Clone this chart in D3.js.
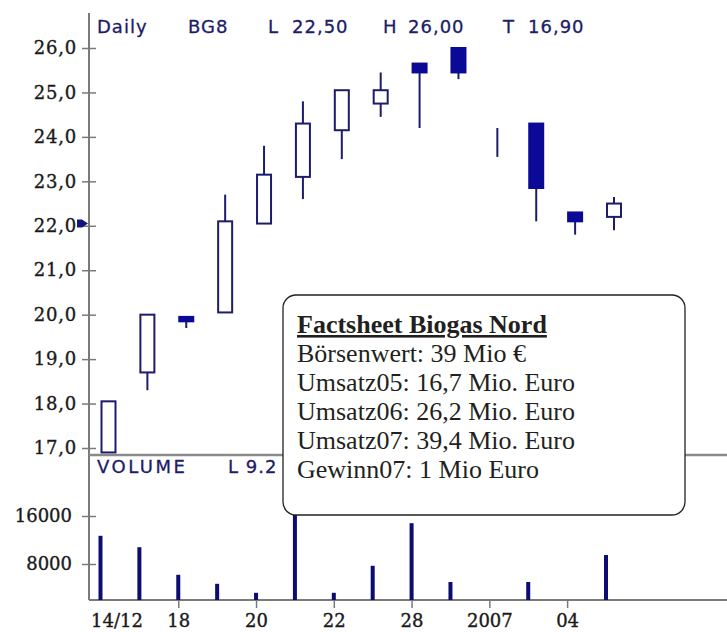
<!DOCTYPE html>
<meta charset="utf-8">
<script src="https://d3js.org/d3.v7.min.js"></script>
<style>
  body { margin: 0; background: #fff; }
</style>
<div id="chart"></div>
<script>

// trading days and the dates that get a label
var days = ["14/12", "15/12", "18/12", "19/12", "20/12", "21/12", "22/12",
            "27/12", "28/12", "29/12", "02/01", "03/01", "04/01", "05/01"];
var tickDays = ["14/12", "18/12", "20/12", "22/12", "28/12", "02/01", "04/01"];
var tickLabels = ["14/12", "18", "20", "22", "28", "2007", "04"];

// daily prices (Euro)
var open  = [16.90, 18.70, 19.95, 20.05, 22.05, 23.10, 24.15, 24.75, 25.65, 26.00, 24.20, 24.30, 22.30, 22.20];
var high  = [18.05, 20.00, 19.95, 22.70, 23.80, 24.80, 25.05, 25.45, 25.65, 26.00, 24.20, 24.30, 22.30, 22.65];
var low   = [16.90, 18.30, 19.70, 20.05, 22.05, 22.60, 23.50, 24.45, 24.20, 25.30, 23.55, 22.10, 21.80, 21.90];
var close = [18.05, 20.00, 19.85, 22.10, 23.15, 24.30, 25.05, 25.05, 25.45, 25.45, 24.20, 22.85, 22.10, 22.50];

// daily volume (0 = no trade shown)
var volume = [12700, 10800, 6200, 4700, 3200, 22000, 3200, 7700, 14800, 5000, 0, 5000, 0, 9500];

var priceTicks = [17, 18, 19, 20, 21, 22, 23, 24, 25, 26];
var volumeTicks = [8000, 16000];
var markerPrice = 22.05;

var header = [
  {t: "Daily", x: 97}, {t: "BG8", x: 188},
  {t: "L", x: 268}, {t: "22,50", x: 292},
  {t: "H", x: 383}, {t: "26,00", x: 408},
  {t: "T", x: 503}, {t: "16,90", x: 528}
];
var factTitle = "Factsheet Biogas Nord";
var factLines = ["Börsenwert: 39 Mio €", "Umsatz05: 16,7 Mio. Euro", "Umsatz06: 26,2 Mio. Euro",
                 "Umsatz07: 39,4 Mio. Euro", "Gewinn07: 1 Mio Euro"];

var W = 727, H = 632;
var axisX = 89, volBase = 600, divider = 455;
var navy = "#1c1c6a", blue = "#0a0a96", grey = "#7a7a7a";

var svg = d3.select("#chart").append("svg")
    .attr("width", W)
    .attr("height", H);

var x = d3.scalePoint().domain(days).range([100.5, 606]);
var candleOffset = 8;
var yPrice = d3.scaleLinear().domain([17, 26]).range([448, 48]);
var yVol = d3.scaleLinear().domain([2000, 18000]).range([volBase, 504]);

var fmtPrice = function(d) { return d3.format(".1f")(d).replace(".", ","); };

// heavier look for the small bitmap-like labels
function labelStyle(sel, family, size) {
  sel.attr("font-family", family).attr("font-size", size)
     .attr("fill", "#1a1a1a").attr("stroke", "#1a1a1a").attr("stroke-width", 0.35);
}

// frame lines
svg.append("line").attr("x1", axisX).attr("x2", axisX).attr("y1", 13).attr("y2", volBase)
    .attr("stroke", grey).attr("stroke-width", 2);
svg.append("line").attr("x1", axisX).attr("x2", W).attr("y1", divider).attr("y2", divider)
    .attr("stroke", "#8a8a8a").attr("stroke-width", 2.5);
svg.append("line").attr("x1", axisX).attr("x2", W).attr("y1", volBase).attr("y2", volBase)
    .attr("stroke", grey).attr("stroke-width", 2);

// price axis
var pAxis = svg.append("g")
    .attr("transform", "translate(" + axisX + ",0)")
    .call(d3.axisLeft(yPrice).tickValues(priceTicks).tickSize(7).tickPadding(5).tickFormat(fmtPrice));
pAxis.select(".domain").remove();
pAxis.selectAll(".tick line").attr("x1", 7).attr("stroke", grey).attr("stroke-width", 1.5);
pAxis.selectAll(".tick text").call(labelStyle, "DejaVu Serif", 18).attr("letter-spacing", 0.8);

// volume axis
var vAxis = svg.append("g")
    .attr("transform", "translate(" + axisX + ",0)")
    .call(d3.axisLeft(yVol).tickValues(volumeTicks).tickSize(7).tickPadding(10).tickFormat(d3.format("d")));
vAxis.select(".domain").remove();
vAxis.selectAll(".tick line").attr("x1", 7).attr("stroke", grey).attr("stroke-width", 1.5);
vAxis.selectAll(".tick text").call(labelStyle, "DejaVu Serif", 18);

// date axis
var xAxis = svg.append("g")
    .attr("transform", "translate(0," + volBase + ")")
    .call(d3.axisBottom(x).tickValues(tickDays).tickSize(8).tickPadding(6)
      .tickFormat(function(d, i) { return tickLabels[i]; }));
xAxis.select(".domain").remove();
xAxis.selectAll(".tick line").attr("stroke", grey).attr("stroke-width", 1.5);
xAxis.selectAll(".tick text").call(labelStyle, "DejaVu Serif", 18);
// first label sits against the axis, without a tick
var first = xAxis.selectAll(".tick").filter(function(d, i) { return i === 0; });
first.select("line").remove();
first.select("text").attr("text-anchor", "start").attr("x", -10);

// volume bars
var volData = days.map(function(d, i) { return {day: d, v: volume[i]}; })
    .filter(function(d) { return d.v > 0; });
svg.append("g").selectAll("rect")
  .data(volData)
  .enter()
  .append("rect")
    .attr("x", function(d) { return x(d.day) - 2; })
    .attr("width", 4)
    .attr("y", function(d) { return yVol(d.v); })
    .attr("height", function(d) { return volBase - yVol(d.v); })
    .attr("fill", "#0c0c72");

// candles
var candles = days.map(function(d, i) {
  return {day: d, o: open[i], h: high[i], l: low[i], c: close[i]};
});
var cg = svg.append("g").selectAll("g")
  .data(candles)
  .enter()
  .append("g")
    .attr("transform", function(d) { return "translate(" + (x(d.day) + candleOffset) + ",0)"; });

cg.append("line")
    .attr("y1", function(d) { return yPrice(d.h); })
    .attr("y2", function(d) { return yPrice(d.l); })
    .attr("stroke", navy)
    .attr("stroke-width", 2);

cg.filter(function(d) { return d.o !== d.c; })
  .append("rect")
    .attr("x", -7)
    .attr("width", 14)
    .attr("y", function(d) { return yPrice(Math.max(d.o, d.c)); })
    .attr("height", function(d) { return Math.abs(yPrice(d.o) - yPrice(d.c)); })
    .attr("fill", function(d) { return d.c < d.o ? blue : "#fff"; })
    .attr("stroke", function(d) { return d.c < d.o ? blue : navy; })
    .attr("stroke-width", 2);

// small pointer left of the price axis
var my = yPrice(markerPrice);
svg.append("path")
    .attr("d", "M77," + (my - 4) + "L82," + (my - 4) + "L88," + my + "L82," + (my + 4) + "L77," + (my + 4) + "Z")
    .attr("fill", "#14147a");

// header texts
svg.append("g").selectAll("text")
  .data(header)
  .enter()
  .append("text")
    .attr("x", function(d) { return d.x; })
    .attr("y", 33)
    .attr("font-family", "DejaVu Sans")
    .attr("font-size", 18)
    .attr("letter-spacing", 1)
    .attr("fill", navy).attr("stroke", navy).attr("stroke-width", 0.3)
    .text(function(d) { return d.t; });

svg.append("text").attr("x", 97).attr("y", 473)
    .attr("font-family", "DejaVu Sans").attr("font-size", 18).attr("letter-spacing", 2.5)
    .attr("fill", navy).attr("stroke", navy).attr("stroke-width", 0.3).text("VOLUME");
svg.append("text").attr("x", 228).attr("y", 473)
    .attr("font-family", "DejaVu Sans").attr("font-size", 18).attr("letter-spacing", 1)
    .attr("fill", navy).attr("stroke", navy).attr("stroke-width", 0.3).text("L  9.2");

// factsheet box
svg.append("rect")
    .attr("x", 283).attr("y", 295).attr("width", 402).attr("height", 220)
    .attr("rx", 13)
    .attr("fill", "#fff")
    .attr("stroke", "#222").attr("stroke-width", 1.3);

svg.append("text").attr("x", 297).attr("y", 333)
    .attr("font-family", "Liberation Serif").attr("font-size", 26).attr("font-weight", "bold")
    .attr("text-decoration", "underline")
    .attr("fill", "#231f20").text(factTitle);

svg.append("g").selectAll("text")
  .data(factLines)
  .enter()
  .append("text")
    .attr("x", 297)
    .attr("y", function(d, i) { return 362 + i * 29; })
    .attr("font-family", "Liberation Serif")
    .attr("font-size", 26)
    .attr("fill", "#231f20")
    .text(function(d) { return d; });

</script>
